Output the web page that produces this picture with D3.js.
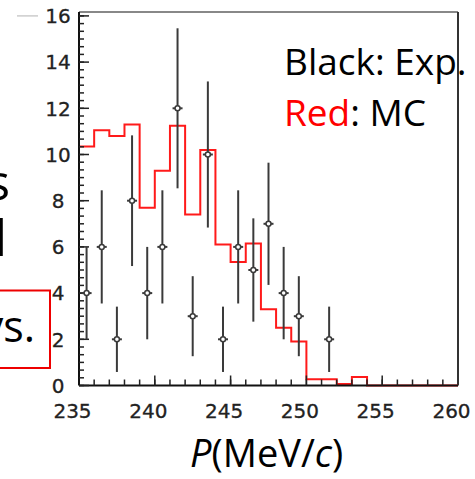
<!DOCTYPE html>
<html>
<head>
<meta charset="utf-8">
<script src="https://cdn.jsdelivr.net/npm/d3@7"></script>
<style>
html,body{margin:0;padding:0;background:#fff;overflow:hidden;}
svg{display:block;}
</style>
</head>
<body>
<svg id="chart" width="475" height="479"></svg>
<script>
// ---- data ----
const binEdgesStart = 235;           // first bin low edge (MeV/c)
const binWidth = 1;
const mcValues = [10.35, 11.05, 10.8, 11.3, 7.7, 9.3, 11.25, 7.4, 10.2, 6.1, 5.35, 6.15, 3.3, 2.5, 1.9, 0.27, 0.27, 0.06, 0.37, 0, 0, 0, 0, 0, 0];
const expCenters = [235.5, 236.5, 237.5, 238.5, 239.5, 240.5, 241.5, 242.5, 243.5, 244.5, 245.5, 246.5, 247.5, 248.5, 249.5, 251.5];
const expCounts  = [4, 6, 2, 8, 4, 6, 12, 3, 10, 2, 6, 5, 7, 4, 3, 2];
const xTicks = [235, 240, 245, 250, 255, 260];
const yTicks = [0, 2, 4, 6, 8, 10, 12, 14, 16];
const legendLines = [["Black: Exp."], ["Red", ": MC"]];

// ---- scales ----
const svg = d3.select("#chart");
const x = d3.scaleLinear().domain([235, 260]).range([79, 458]);
const y = d3.scaleLinear().domain([0, 16]).range([385.5, 15.9]);
const frameTop = y(16) - 4, frameBottom = y(0);

// ---- slide fragments on the left ----
const sans = "'Open Sans', 'Noto Sans', sans-serif";
svg.append("text").attr("x", 10).attr("y", 200).attr("text-anchor", "end")
  .attr("font-family", sans).attr("font-size", 50).attr("fill", "#000").text("s");
svg.append("text").attr("x", 7).attr("y", 256).attr("text-anchor", "end")
  .attr("font-family", sans).attr("font-size", 50).attr("fill", "#000").text("d");
svg.append("rect").attr("x", -5).attr("y", 290.5).attr("width", 55).attr("height", 77.5)
  .attr("fill", "none").attr("stroke", "#e00").attr("stroke-width", 2);
svg.append("text").attr("x", 35).attr("y", 342).attr("text-anchor", "end")
  .attr("font-family", sans).attr("font-size", 43).attr("fill", "#000").text("ys.");
svg.append("line").attr("x1", 17).attr("x2", 38).attr("y1", y(16)).attr("y2", y(16))
  .attr("stroke", "#ccc").attr("stroke-width", 1.5);

// ---- frame ----
svg.append("line").attr("x1", x(235)).attr("x2", x(260)).attr("y1", frameTop).attr("y2", frameTop)
  .attr("stroke", "#888").attr("stroke-width", 2);
svg.append("line").attr("x1", x(260)).attr("x2", x(260)).attr("y1", frameTop).attr("y2", frameBottom)
  .attr("stroke", "#333").attr("stroke-width", 2);

// ---- MC histogram ----
const stepPts = mcValues.map((v, i) => [binEdgesStart + i * binWidth, v]);
stepPts.push([binEdgesStart + mcValues.length * binWidth, mcValues[mcValues.length - 1]]);
svg.append("path")
  .attr("d", d3.line().x(d => x(d[0])).y(d => y(d[1])).curve(d3.curveStepAfter)(stepPts))
  .attr("fill", "none").attr("stroke", "#ff1a1a").attr("stroke-width", 2);

// ---- axes ----
const axisG = svg.append("g");
axisG.append("line").attr("x1", x(235)).attr("x2", x(235)).attr("y1", frameTop).attr("y2", frameBottom)
  .attr("stroke", "#111").attr("stroke-width", 2);
axisG.append("line").attr("x1", x(235)).attr("x2", x(260)).attr("y1", frameBottom).attr("y2", frameBottom)
  .attr("stroke", "#111").attr("stroke-width", 2);
const yMinor = d3.range(0, 48.5).map(i => i / 3);
axisG.selectAll(".ymin").data(yMinor).enter().append("line")
  .attr("x1", x(235)).attr("x2", x(235) + 5).attr("y1", d => y(d)).attr("y2", d => y(d))
  .attr("stroke", "#222").attr("stroke-width", 1.5);
axisG.selectAll(".ymaj").data(yTicks).enter().append("line")
  .attr("x1", x(235)).attr("x2", x(235) + 10).attr("y1", d => y(d)).attr("y2", d => y(d))
  .attr("stroke", "#222").attr("stroke-width", 1.5);
const xMinor = d3.range(236, 260, 1);
axisG.selectAll(".xmin").data(xMinor).enter().append("line")
  .attr("x1", d => x(d)).attr("x2", d => x(d)).attr("y1", frameBottom).attr("y2", frameBottom - 6)
  .attr("stroke", "#222").attr("stroke-width", 1.5);
axisG.selectAll(".xmaj").data(xTicks.slice(1, -1)).enter().append("line")
  .attr("x1", d => x(d)).attr("x2", d => x(d)).attr("y1", frameBottom).attr("y2", frameBottom - 10)
  .attr("stroke", "#222").attr("stroke-width", 1.5);
const tickFont = "'DejaVu Sans', sans-serif";
axisG.selectAll(".ylab").data(yTicks).enter().append("text")
  .attr("x", 58).attr("y", d => y(d)).attr("dy", "0.36em").attr("text-anchor", "middle")
  .attr("font-family", tickFont).attr("font-size", 20).attr("fill", "#222")
  .attr("stroke", "#222").attr("stroke-width", 0.3).text(d => d);
axisG.selectAll(".xlab").data(xTicks).enter().append("text")
  .attr("x", d => x(d) - 6.5).attr("y", 418).attr("text-anchor", "middle")
  .attr("font-family", tickFont).attr("font-size", 20).attr("fill", "#222")
  .attr("stroke", "#222").attr("stroke-width", 0.3).text(d => d);

// ---- experimental points ----
const expData = expCenters.map((c, i) => ({c, n: expCounts[i], e: Math.sqrt(expCounts[i])}));
const pts = svg.append("g").attr("stroke", "#3a3a3a").attr("stroke-width", 2);
pts.selectAll(".eb").data(expData).enter().append("line")
  .attr("x1", d => x(d.c)).attr("x2", d => x(d.c))
  .attr("y1", d => y(d.n - d.e)).attr("y2", d => y(d.n + d.e));
pts.selectAll(".hb").data(expData).enter().append("line")
  .attr("x1", d => x(d.c) - 5).attr("x2", d => x(d.c) + 5)
  .attr("y1", d => y(d.n)).attr("y2", d => y(d.n));
pts.selectAll(".mk").data(expData).enter().append("circle")
  .attr("cx", d => x(d.c)).attr("cy", d => y(d.n)).attr("r", 2.5)
  .attr("fill", "#fff").attr("stroke-width", 1.5);

// ---- legend ----
const leg = svg.append("text").attr("font-family", sans).attr("font-size", 37);
leg.append("tspan").attr("x", 284).attr("y", 75).attr("fill", "#000").text(legendLines[0][0]);
leg.append("tspan").attr("x", 284).attr("y", 126).attr("fill", "#ff0000").text(legendLines[1][0]);
leg.append("tspan").attr("fill", "#000").text(legendLines[1][1]);

// ---- x axis title ----
const xt = svg.append("text").attr("x", 190).attr("y", 467).attr("font-family", sans)
  .attr("font-size", 38).attr("fill", "#000");
xt.append("tspan").attr("font-style", "italic").text("P");
xt.append("tspan").text("(MeV/");
xt.append("tspan").attr("font-style", "italic").text("c");
xt.append("tspan").text(")");
</script>
</body>
</html>
